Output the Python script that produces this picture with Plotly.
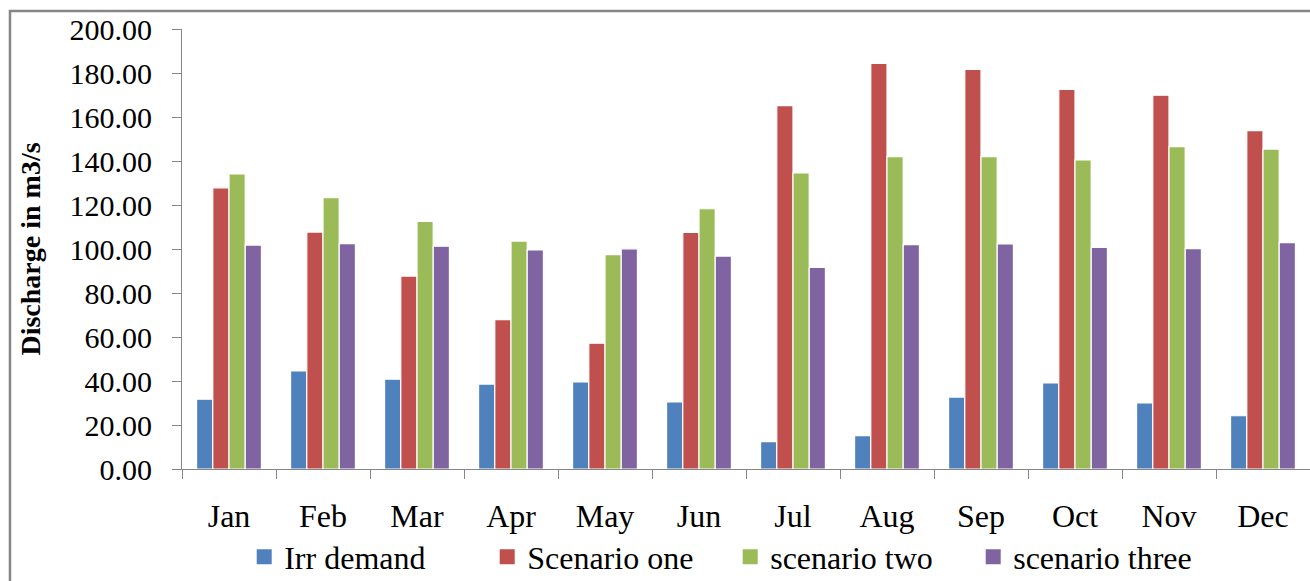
import plotly.graph_objects as go

months = ["Jan", "Feb", "Mar", "Apr", "May", "Jun",
          "Jul", "Aug", "Sep", "Oct", "Nov", "Dec"]

irr_demand = [31.7, 44.6, 40.8, 38.6, 39.6, 30.5, 12.4, 15.2, 32.7, 39.1, 30.0, 24.2]
scenario_one = [127.8, 107.7, 87.7, 67.9, 57.2, 107.6, 165.2, 184.4, 181.6, 172.6, 169.9, 153.8]
scenario_two = [134.1, 123.3, 112.6, 103.6, 97.4, 118.3, 134.6, 142.0, 142.0, 140.5, 146.5, 145.4]
scenario_three = [101.8, 102.4, 101.3, 99.6, 100.1, 96.8, 91.6, 102.0, 102.3, 100.7, 100.2, 102.9]

series = [
    ("Irr demand", irr_demand, "#4F81BD"),
    ("Scenario one", scenario_one, "#C0504D"),
    ("scenario two", scenario_two, "#9BBB59"),
    ("scenario three", scenario_three, "#8064A2"),
]

SERIF = "Times New Roman, Liberation Serif, serif"
AXIS_GREY = "#868686"

fig = go.Figure()
for name, values, color in series:
    fig.add_trace(go.Bar(
        x=months, y=values, name=name, showlegend=False,
        marker=dict(color=color, line=dict(color="white", width=1.2)),
    ))

# legend entries drawn as larger square swatches
for name, _, color in series:
    fig.add_trace(go.Scatter(
        x=[months[0]], y=[None], name=name, mode="markers",
        marker=dict(symbol="square", size=15, color=color),
        hoverinfo="skip",
    ))

fig.update_layout(
    width=1310, height=581,
    margin=dict(l=182, r=0, t=29, b=112, autoexpand=False),
    paper_bgcolor="white", plot_bgcolor="white",
    barmode="group", bargap=0.31, bargroupgap=0.0,
    font=dict(family=SERIF, color="black"),
    showlegend=True,
    legend=dict(
        orientation="h", x=0.486, y=-0.2,
        xanchor="center", yanchor="middle",
        font=dict(family=SERIF, size=32, color="black"),
        itemwidth=30, traceorder="normal",
        entrywidth=198, entrywidthmode="pixels",
        bgcolor="rgba(0,0,0,0)",
    ),
    shapes=[dict(
        type="rect", xref="paper", yref="paper",
        x0=-0.1525, x1=1.05, y0=-0.3, y1=1.0409,
        line=dict(color=AXIS_GREY, width=2.5), layer="below",
    )],
)

fig.update_xaxes(
    type="category", categoryorder="array", categoryarray=months,
    range=[-0.5, len(months) - 0.5],
    tickson="boundaries", automargin=False,
    showline=True, linecolor=AXIS_GREY, linewidth=1,
    ticks="outside", ticklen=9, tickcolor=AXIS_GREY,
    showgrid=False, zeroline=False,
    tickfont=dict(family=SERIF, size=32, color="black"),
    ticklabelstandoff=19,
)

fig.update_yaxes(
    range=[0, 200], tick0=0, dtick=20, tickformat=".2f", automargin=False,
    showline=True, linecolor=AXIS_GREY, linewidth=1,
    ticks="outside", ticklen=9, tickcolor=AXIS_GREY,
    showgrid=False, zeroline=False,
    tickfont=dict(family=SERIF, size=30, color="black"),
    ticklabelstandoff=14,
    title=dict(
        text="<b>Discharge in m3/s</b>",
        font=dict(family=SERIF, size=28, color="black"),
        standoff=20,
    ),
)

fig.write_html("out.html")
